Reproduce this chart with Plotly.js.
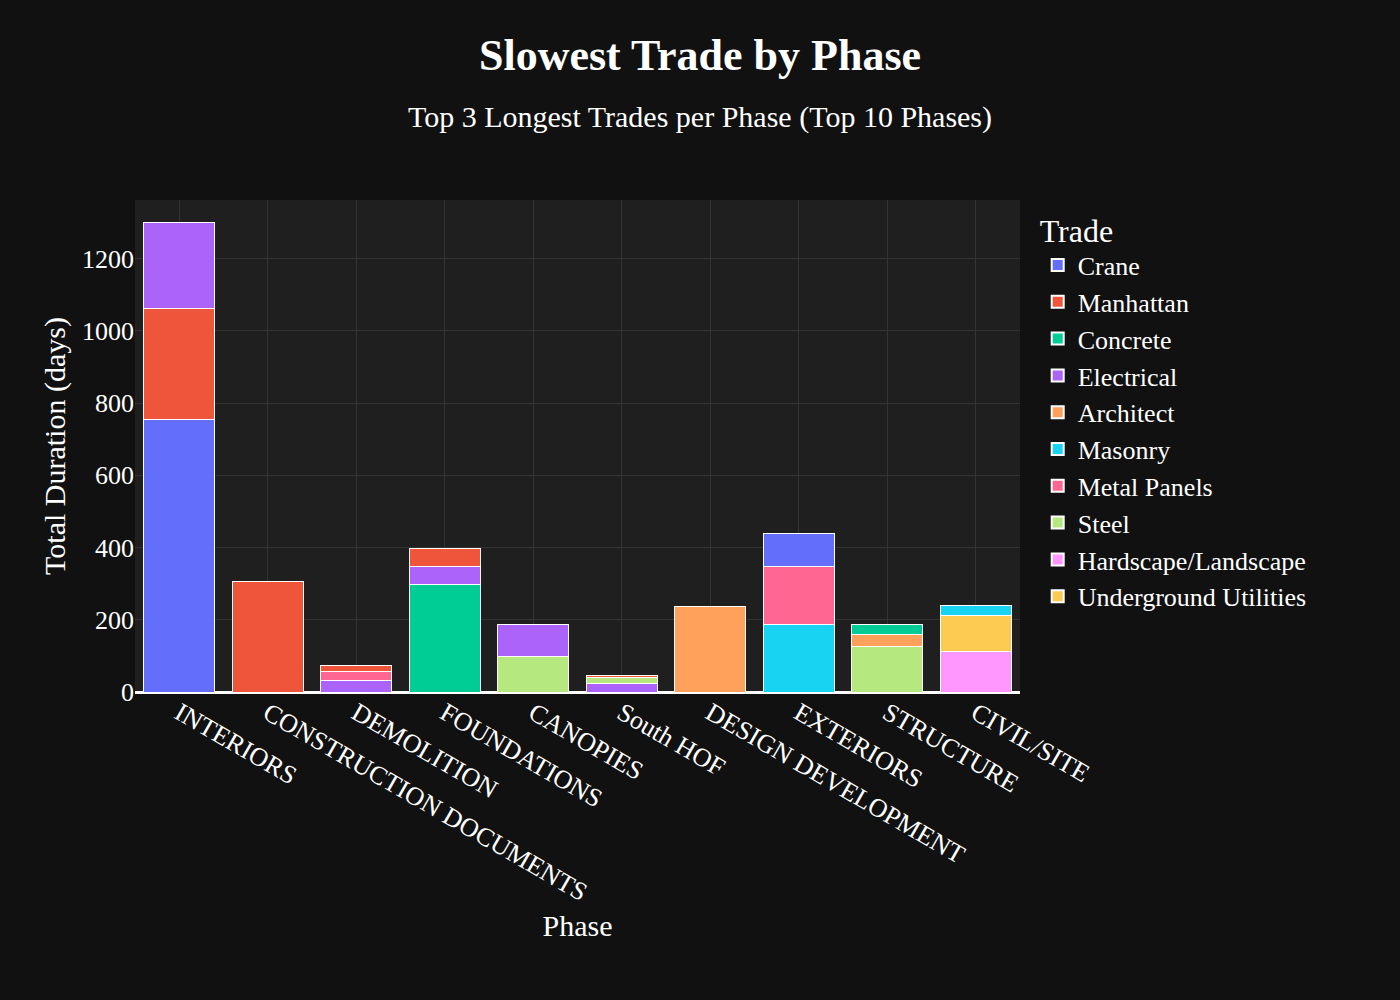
<!DOCTYPE html>
<html>
<head>
<meta charset="utf-8">
<script src="https://cdn.plot.ly/plotly-3.0.1.min.js"></script>
<style>body{margin:0;background:#111111;}</style>
</head>
<body>
<div id="chart" style="width:1400px;height:1000px;"></div>
<script>
const phases = ["INTERIORS", "CONSTRUCTION DOCUMENTS", "DEMOLITION", "FOUNDATIONS", "CANOPIES",
	"South HOF", "DESIGN DEVELOPMENT", "EXTERIORS", "STRUCTURE", "CIVIL/SITE"];

const trades = ["Crane", "Manhattan", "Concrete", "Electrical", "Architect", "Masonry",
	"Metal Panels", "Steel", "Hardscape/Landscape", "Underground Utilities"];

const colors = ["#636efa", "#EF553B", "#00cc96", "#ab63fa", "#FFA15A", "#19d3f3",
	"#FF6692", "#B6E880", "#FF97FF", "#FECB52"];

// days per trade, one value per phase (null = not in top 3)
const crane = [754, null, null, null, null, null, null, 92, null, null];
const manhattan = [307, 306, 14, 50, null, 8, null, null, null, null];
const concrete = [null, null, null, 298, null, null, null, null, 28, null];
const electrical = [239, null, 31, 50, 89, 23, null, null, null, null];
const architect = [null, null, null, null, null, null, 237, null, 34, null];
const masonry = [null, null, null, null, null, null, null, 187, null, 28];
const metalPanels = [null, null, 27, null, null, null, null, 161, null, null];
const steel = [null, null, null, null, 98, 16, null, null, 125, null];
const hardscape = [null, null, null, null, null, null, null, null, null, 111];
const underground = [null, null, null, null, null, null, null, null, null, 101];

const values = [crane, manhattan, concrete, electrical, architect, masonry,
	metalPanels, steel, hardscape, underground];

// one trace per segment so each bar stacks longest trade at the bottom
const data = [];
const shown = {};
phases.forEach((phase, p) => {
	const segs = trades
		.map((t, i) => ({ i: i, v: values[i][p] }))
		.filter(s => s.v != null);
	// bottom segment first: longest, ties keep the picture's order
	const order = { "FOUNDATIONS": ["Concrete", "Electrical", "Manhattan"] };
	if (order[phase]) segs.sort((a, b) => order[phase].indexOf(trades[a.i]) - order[phase].indexOf(trades[b.i]));
	else segs.sort((a, b) => b.v - a.v);
	segs.forEach(s => {
		data.push({
			type: "bar",
			name: trades[s.i],
			legendgroup: trades[s.i],
			legendrank: s.i + 1,
			showlegend: !shown[s.i],
			x: [phase],
			y: [s.v],
			marker: { color: colors[s.i], line: { color: "#ffffff", width: 1 } },
		});
		shown[s.i] = true;
	});
});

const layout = {
	barmode: "stack",
	paper_bgcolor: "#111111",
	plot_bgcolor: "#1f1f1f",
	font: { family: "Liberation Serif, serif", color: "#ffffff", size: 24 },
	title: {
		text: "<b>Slowest Trade by Phase</b><br><span style='font-size:30px'>Top 3 Longest Trades per Phase (Top 10 Phases)</span>",
		x: 0.5, xanchor: "center", y: 0.93,
		font: { size: 44, color: "#ffffff" },
	},
	margin: { l: 135, r: 380, t: 200, b: 308 },
	bargap: 0.2,
	xaxis: {
		title: { text: "Phase", font: { size: 30 } },
		tickangle: 30,
		gridcolor: "#333333",
		showgrid: true,
		tickfont: { size: 26 },
		categoryorder: "array",
		categoryarray: phases,
	},
	yaxis: {
		title: { text: "Total Duration (days)", font: { size: 30 } },
		gridcolor: "#333333",
		zeroline: true,
		zerolinecolor: "#ffffff",
		zerolinewidth: 3,
		range: [0, 1362],
		tickfont: { size: 26 },
	},
	legend: {
		title: { text: "Trade", font: { size: 32 } },
		font: { size: 26 },
		x: 1.02, y: 1, yanchor: "top",
		traceorder: "normal",
		itemsizing: "constant",
	},
};

Plotly.newPlot("chart", data, layout, { displayModeBar: false });
</script>
</body>
</html>
